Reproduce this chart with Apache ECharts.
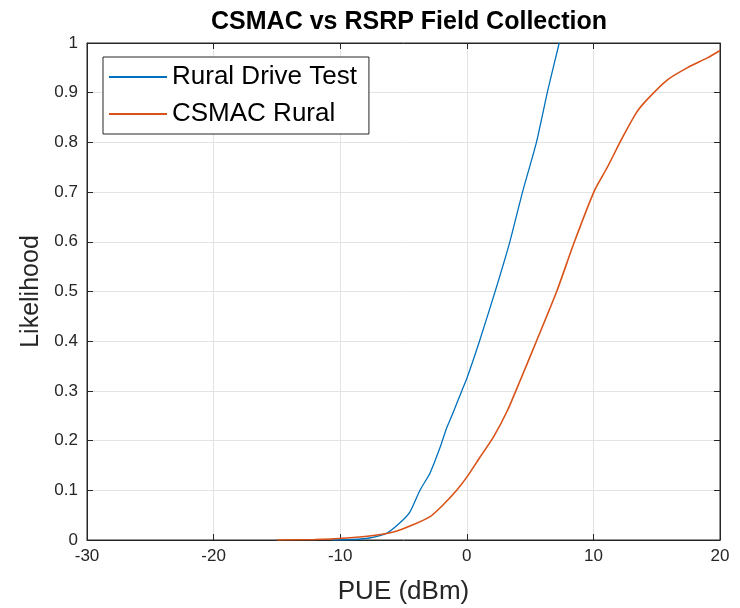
<!DOCTYPE html>
<html><head><meta charset="utf-8">
<script src="https://cdn.jsdelivr.net/npm/echarts@6/dist/echarts.min.js"></script>
<style>html,body{margin:0;padding:0;background:#fff}#c{width:740px;height:608px}</style>
</head><body><div id="c"></div>
<script>
const titleText = 'CSMAC vs RSRP Field Collection';
const xLabel = 'PUE (dBm)';
const yLabel = 'Likelihood';
const seriesNames = ['Rural Drive Test', 'CSMAC Rural'];
// Rural Drive Test: [PUE, likelihood]
const driveTest = [
  [-10.6,0],[-9,0.001],[-7.7,0.004],[-6.3,0.014],[-5.3,0.034],[-4.5,0.056],[-3.7,0.10],
  [-2.9,0.135],[-2.1,0.187],[-1.6,0.225],[-1.1,0.255],[-0.4,0.30],[0,0.325],[1.0,0.40],
  [2.2,0.497],[3.4,0.60],[4.4,0.70],[5.5,0.80],[6.4,0.905],[7.3,1.0]
];
// CSMAC Rural: [PUE, likelihood]
const csmac = [
  [-15,0],[-12,0.001],[-9.5,0.004],[-7.7,0.008],[-5.8,0.016],[-4.3,0.03],[-2.9,0.047],
  [-1.9,0.07],[-0.8,0.10],[0.1,0.13],[1.0,0.165],[2.1,0.207],[3.2,0.26],[4.2,0.32],
  [5.5,0.40],[7.1,0.50],[8.5,0.60],[10.1,0.704],[11.1,0.75],[12.3,0.81],[13.4,0.86],
  [14.2,0.885],[15.8,0.925],[17.4,0.95],[19.0,0.97],[20.0,0.985]
];
const xTicks = {min:-30, max:20, interval:10};
const yTicks = {min:0, max:1, interval:0.1};

const chart = echarts.init(document.getElementById('c'));
const font = 'Liberation Sans, Arial, sans-serif';
const axisCol = '#262626';
const boxAxis = (pos, t) => ({type:'value',position:pos,min:t.min,max:t.max,interval:t.interval,
    axisLine:{show:true,onZero:false,lineStyle:{color:axisCol}},
    axisTick:{show:true,inside:true,length:6,lineStyle:{color:axisCol}},
    axisLabel:{show:false},splitLine:{show:false}});
chart.setOption({
  animation:false,
  title:{text:titleText,left:404,top:5,textAlign:'center',
    textStyle:{fontFamily:font,fontSize:25,fontWeight:'bold',color:'#000'}},
  legend:{left:103,top:57,orient:'vertical',itemWidth:58,itemHeight:2,itemGap:11,
    padding:[7,12,7,6],borderColor:'#262626',borderWidth:1,backgroundColor:'#fff',
    icon:'rect',
    textStyle:{fontFamily:font,fontSize:26,color:'#000'},
    data:seriesNames},
  grid:{left:87,right:20,top:43,bottom:68,show:true,borderColor:axisCol,borderWidth:1,
    containLabel:false,outerBoundsMode:'none'},
  xAxis:[{type:'value',position:'bottom',min:xTicks.min,max:xTicks.max,interval:xTicks.interval,
    name:xLabel,nameLocation:'middle',nameGap:39,
    nameTextStyle:{fontFamily:font,fontSize:26,color:'#262626'},
    axisLine:{show:true,onZero:false,lineStyle:{color:axisCol}},
    axisTick:{show:true,inside:true,length:6,lineStyle:{color:axisCol}},
    axisLabel:{fontFamily:font,fontSize:17,color:axisCol,margin:8},
    splitLine:{show:true,lineStyle:{color:'#e3e3e3'}}},
   boxAxis('top', xTicks)],
  yAxis:[{type:'value',position:'left',min:yTicks.min,max:yTicks.max,interval:yTicks.interval,
    name:yLabel,nameLocation:'middle',nameGap:43,
    nameTextStyle:{fontFamily:font,fontSize:25,color:'#262626'},
    axisLine:{show:true,onZero:false,lineStyle:{color:axisCol}},
    axisTick:{show:true,inside:true,length:6,lineStyle:{color:axisCol}},
    axisLabel:{fontFamily:font,fontSize:17,color:axisCol,margin:9,
      formatter:v=>(Math.round(v*10)/10).toString()},
    splitLine:{show:true,lineStyle:{color:'#e3e3e3'}}},
   boxAxis('right', yTicks)],
  series:[
    {name:seriesNames[0],type:'line',data:driveTest,showSymbol:false,smooth:0.2,
     color:'#0072BD',lineStyle:{width:1.3,color:'#0072BD'},clip:true},
    {name:seriesNames[1],type:'line',data:csmac,showSymbol:false,smooth:0.2,
     color:'#D95319',lineStyle:{width:1.6,color:'#D95319'},clip:true}
  ]
});
</script></body></html>
